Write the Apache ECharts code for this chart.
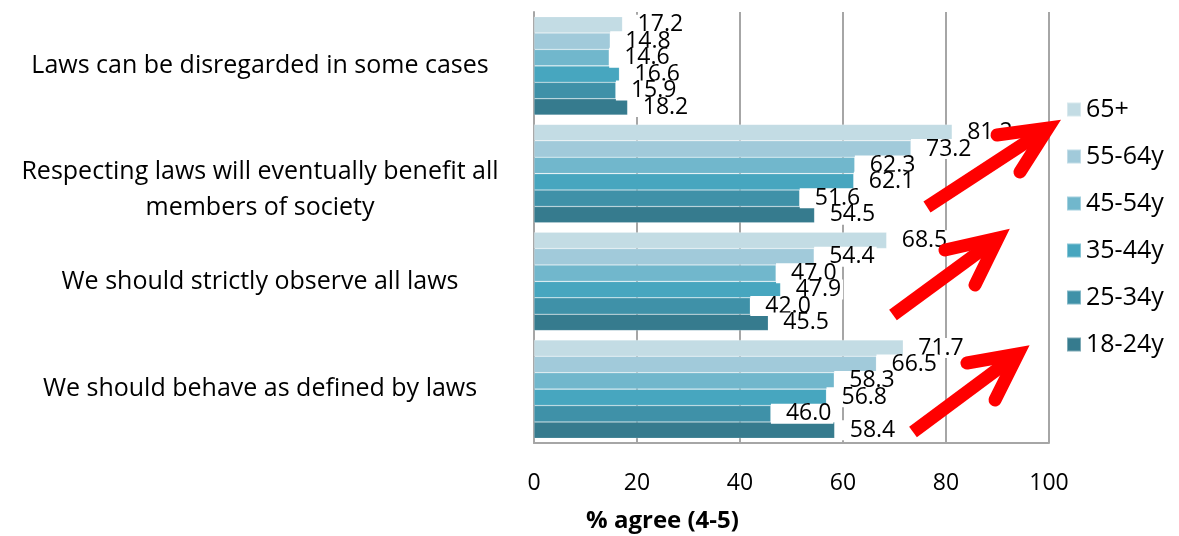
<!DOCTYPE html>
<html>
<head>
<meta charset="utf-8">
<script src="https://cdn.jsdelivr.net/npm/echarts@6/dist/echarts.min.js"></script>
<style>
html,body{margin:0;padding:0;background:#fff;}
#chart{width:1179px;height:536px;}
</style>
</head>
<body>
<div id="chart"></div>
<script>
const categories = [
  "Laws can be disregarded in some cases",
  "Respecting laws will eventually benefit all\nmembers of society",
  "We should strictly observe all laws",
  "We should behave as defined by laws"
];
const seriesNames = ["65+", "55-64y", "45-54y", "35-44y", "25-34y", "18-24y"];
const v65plus = [17.2, 81.2, 68.5, 71.7];
const v55_64 = [14.8, 73.2, 54.4, 66.5];
const v45_54 = [14.6, 62.3, 47.0, 58.3];
const v35_44 = [16.6, 62.1, 47.9, 56.8];
const v25_34 = [15.9, 51.6, 42.0, 46.0];
const v18_24 = [18.2, 54.5, 45.5, 58.4];
const xTicks = { min: 0, max: 100, interval: 20 };
const axisTitle = "% agree (4-5)";

const colors = ["#C3DCE4", "#A1CADA", "#71B7CC", "#47A6BF", "#3F91A8", "#367B8E"];
const values = [v65plus, v55_64, v45_54, v35_44, v25_34, v18_24];
const FONT = "Open Sans";

const chart = echarts.init(document.getElementById('chart'));

const series = seriesNames.map((name, i) => ({
  name: name,
  type: 'bar',
  data: values[i],
  barGap: '0%',
  barCategoryGap: '8.5%',
  itemStyle: { color: colors[i], borderColor: 'rgba(255,255,255,0.35)', borderWidth: 0.6 },
  label: {
    show: true,
    position: 'right',
    distance: 0,
    padding: [3, 2, 0, 15],
    backgroundColor: '#ffffff',
    color: '#000',
    fontFamily: FONT,
    fontSize: 23,
    lineHeight: 17,
    formatter: p => p.value.toFixed(1)
  }
}));

function catFormatter(v) {
  if (v.indexOf('\n') >= 0) {
    return '{pad|}\n' + v.split('\n').map(s => '{t2|' + s + '}').join('\n');
  }
  return '{t1|' + v + '}';
}

function arrow(tail, tip, armA, armB) {
  return [
    { type: 'line', z: 100, shape: { x1: tail[0], y1: tail[1], x2: tip[0], y2: tip[1] },
      style: { stroke: '#FF0000', lineWidth: 13, lineCap: 'butt' } },
    { type: 'polyline', z: 100, shape: { points: [armA, tip, armB] },
      style: { stroke: '#FF0000', lineWidth: 13, lineCap: 'round', lineJoin: 'miter', fill: null } }
  ];
}

const option = {
  backgroundColor: '#fff',
  animation: false,
  textStyle: { fontFamily: FONT },
  grid: { left: 534, right: 130, top: 12, bottom: 93, containLabel: false, outerBoundsMode: 'none' },
  legend: {
    orient: 'vertical',
    left: 1061,
    top: 92,
    icon: 'rect',
    itemWidth: 14,
    itemHeight: 14,
    itemGap: 22,
    textStyle: { fontFamily: FONT, fontSize: 25, lineHeight: 24, color: '#000' },
    data: seriesNames
  },
  xAxis: {
    type: 'value',
    min: xTicks.min, max: xTicks.max, interval: xTicks.interval,
    axisLine: { show: true, lineStyle: { color: '#a6a6a6', width: 2 } },
    axisTick: { show: false },
    splitLine: { show: true, lineStyle: { color: '#a6a6a6', width: 2 } },
    axisLabel: { fontFamily: FONT, fontSize: 23, color: '#000', margin: 29 },
    name: axisTitle,
    nameLocation: 'middle',
    nameGap: 66,
    nameTextStyle: { fontFamily: FONT, fontSize: 24, fontWeight: 'bold', color: '#000', padding: [0, 258, 0, 0] }
  },
  yAxis: {
    type: 'category',
    inverse: true,
    data: categories,
    axisLine: { show: true, lineStyle: { color: '#a6a6a6', width: 2 } },
    axisTick: { show: false },
    axisLabel: {
      fontFamily: FONT, fontSize: 25, color: '#000', align: 'center', margin: 274,
      formatter: catFormatter,
      rich: {
        t1: { fontFamily: FONT, fontSize: 25, color: '#000', lineHeight: 30 },
        t2: { fontFamily: FONT, fontSize: 25, color: '#000', lineHeight: 36 },
        pad: { fontSize: 1, lineHeight: 32, height: 32 }
      }
    }
  },
  series: series,
  graphic: [].concat(
    arrow([927, 207], [1048, 128], [997, 135], [1020, 172]),
    arrow([893, 315], [998, 238], [945, 250], [975, 285]),
    arrow([913, 432], [1018, 354], [967, 363], [995, 400])
  )
};
chart.setOption(option);
</script>
</body>
</html>
